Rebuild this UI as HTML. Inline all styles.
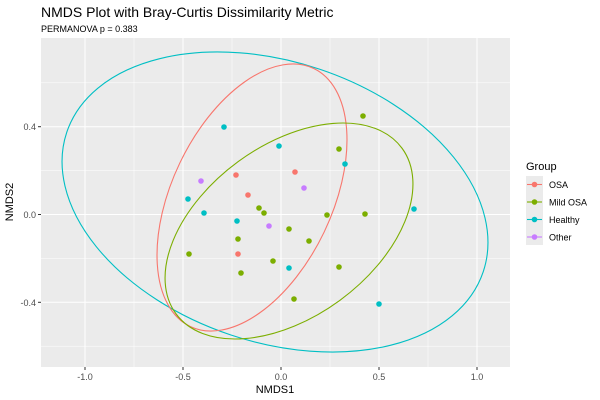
<!DOCTYPE html>
<html><head><style>body{margin:0;background:#fff}svg{display:block}text{font-family:"Liberation Sans","DejaVu Sans",sans-serif}</style></head>
<body>
<svg width="600" height="400" viewBox="0 0 600 400">
<text x="41" y="17" font-size="14" fill="#000">NMDS Plot with Bray-Curtis Dissimilarity Metric</text>
<text x="41" y="32" font-size="9" fill="#000">PERMANOVA p = 0.383</text>
<rect x="41" y="38" width="469" height="329" fill="#EBEBEB"/>
<g stroke="#fff" stroke-width="0.5">
<line x1="41" x2="510" y1="82.8" y2="82.8"/><line x1="41" x2="510" y1="170.6" y2="170.6"/><line x1="41" x2="510" y1="258.4" y2="258.4"/><line x1="41" x2="510" y1="346.2" y2="346.2"/>
<line x1="134" x2="134" y1="38" y2="367"/><line x1="232" x2="232" y1="38" y2="367"/><line x1="330" x2="330" y1="38" y2="367"/><line x1="428" x2="428" y1="38" y2="367"/>
</g>
<g stroke="#fff" stroke-width="1">
<line x1="41" x2="510" y1="126.7" y2="126.7"/><line x1="41" x2="510" y1="214.5" y2="214.5"/><line x1="41" x2="510" y1="302.3" y2="302.3"/>
<line x1="85" x2="85" y1="38" y2="367"/><line x1="183" x2="183" y1="38" y2="367"/><line x1="281" x2="281" y1="38" y2="367"/><line x1="379" x2="379" y1="38" y2="367"/><line x1="477" x2="477" y1="38" y2="367"/>
</g>
<g fill="none" stroke-width="1.1">
<ellipse cx="275" cy="202" rx="219.6" ry="140.1" transform="rotate(18.5 275 202)" stroke="#00BFC4"/>
<ellipse cx="252" cy="197.5" rx="143" ry="80" transform="rotate(-64.4 252 197.5)" stroke="#F8766D"/>
<ellipse cx="289" cy="231" rx="140.1" ry="86" transform="rotate(-36.2 289 231)" stroke="#7CAE00"/>
</g>
<g fill="#F8766D"><circle cx="236" cy="175" r="2.8"/><circle cx="248" cy="195" r="2.8"/><circle cx="295" cy="172" r="2.8"/><circle cx="238" cy="254" r="2.8"/></g>
<g fill="#7CAE00"><circle cx="363" cy="116" r="2.8"/><circle cx="339" cy="149" r="2.8"/><circle cx="259" cy="208" r="2.8"/><circle cx="264" cy="213" r="2.8"/><circle cx="327" cy="215" r="2.8"/><circle cx="365" cy="214" r="2.8"/><circle cx="289" cy="229" r="2.8"/><circle cx="309" cy="241" r="2.8"/><circle cx="238" cy="239" r="2.8"/><circle cx="189" cy="254" r="2.8"/><circle cx="241" cy="273" r="2.8"/><circle cx="273" cy="261" r="2.8"/><circle cx="339" cy="267" r="2.8"/><circle cx="294" cy="299" r="2.8"/></g>
<g fill="#00BFC4"><circle cx="224" cy="127" r="2.8"/><circle cx="279" cy="146" r="2.8"/><circle cx="345" cy="164" r="2.8"/><circle cx="188" cy="199" r="2.8"/><circle cx="204" cy="213" r="2.8"/><circle cx="237" cy="221" r="2.8"/><circle cx="414" cy="209" r="2.8"/><circle cx="289" cy="268" r="2.8"/><circle cx="379" cy="304" r="2.8"/></g>
<g fill="#C77CFF"><circle cx="201" cy="181" r="2.8"/><circle cx="304" cy="188" r="2.8"/><circle cx="269" cy="226" r="2.8"/></g>
<g stroke="#333" stroke-width="1"><line x1="38" x2="41" y1="126.7" y2="126.7"/><line x1="38" x2="41" y1="214.5" y2="214.5"/><line x1="38" x2="41" y1="302.3" y2="302.3"/>
<line x1="85" x2="85" y1="367" y2="370"/><line x1="183" x2="183" y1="367" y2="370"/><line x1="281" x2="281" y1="367" y2="370"/><line x1="379" x2="379" y1="367" y2="370"/><line x1="477" x2="477" y1="367" y2="370"/></g>
<g font-size="9" fill="#4D4D4D" text-anchor="end"><text x="36" y="130">0.4</text><text x="36" y="218">0.0</text><text x="36" y="306">-0.4</text></g>
<g font-size="9" fill="#4D4D4D" text-anchor="middle"><text x="85" y="380">-1.0</text><text x="183" y="380">-0.5</text><text x="281" y="380">0.0</text><text x="379" y="380">0.5</text><text x="477" y="380">1.0</text></g>
<text x="275" y="393" font-size="11" text-anchor="middle">NMDS1</text>
<text transform="translate(13 202) rotate(-90)" font-size="11" text-anchor="middle">NMDS2</text>
<text x="526" y="170" font-size="11">Group</text>
<rect x="526" y="176" width="17" height="69" fill="#EBEBEB"/>
<g stroke-width="1.1"><line x1="527" x2="542" y1="184.5" y2="184.5" stroke="#F8766D"/><line x1="527" x2="542" y1="202" y2="202" stroke="#7CAE00"/><line x1="527" x2="542" y1="219.5" y2="219.5" stroke="#00BFC4"/><line x1="527" x2="542" y1="237" y2="237" stroke="#C77CFF"/></g>
<circle cx="534.5" cy="184.5" r="2.8" fill="#F8766D"/><circle cx="534.5" cy="202" r="2.8" fill="#7CAE00"/><circle cx="534.5" cy="219.5" r="2.8" fill="#00BFC4"/><circle cx="534.5" cy="237" r="2.8" fill="#C77CFF"/>
<g font-size="9" fill="#000"><text x="549" y="188">OSA</text><text x="549" y="205.5">Mild OSA</text><text x="549" y="223">Healthy</text><text x="549" y="240.5">Other</text></g>
</svg>
</body></html>
